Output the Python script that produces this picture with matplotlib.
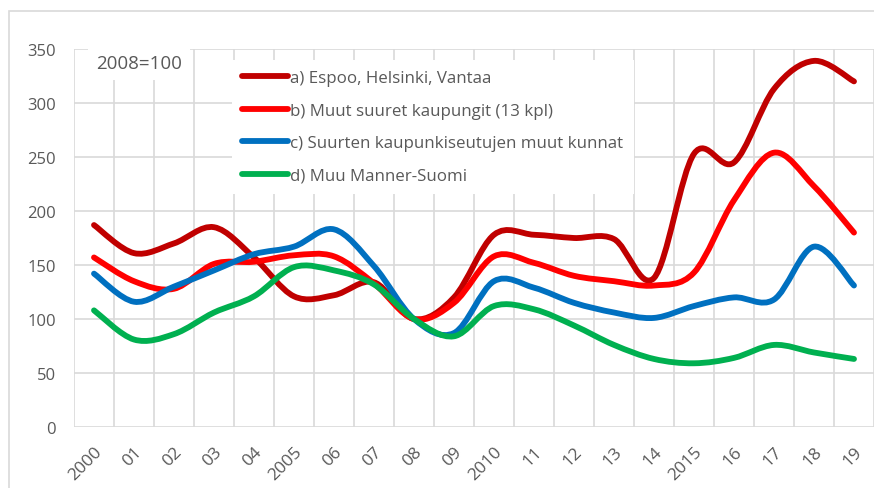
import numpy as np
import matplotlib.pyplot as plt
from matplotlib.path import Path
from matplotlib.patches import PathPatch, Rectangle
from matplotlib.lines import Line2D

plt.rcParams['font.family'] = ['Open Sans', 'DejaVu Sans']

# data (2008=100)
years = list(range(2000, 2020))
tick_labels = ['2000', '01', '02', '03', '04', '2005', '06', '07', '08', '09',
               '2010', '11', '12', '13', '14', '2015', '16', '17', '18', '19']
espoo_hki_vantaa = [187, 161, 170, 185, 157, 121, 122, 134, 100, 120,
                    178, 178, 175, 174, 138, 253, 245, 313, 339, 320]
muut_suuret = [157, 135, 128, 151, 153, 159, 158, 133, 100, 115,
               158, 152, 140, 135, 131, 143, 210, 254, 223, 180]
kaupunkiseudut = [142, 116, 130, 145, 160, 167, 183, 149, 100, 87,
                  135, 129, 115, 106, 101, 112, 120, 118, 167, 131]
muu_manner = [108, 81, 86, 106, 121, 148, 145, 132, 100, 84,
              112, 109, 94, 76, 63, 59, 64, 76, 69, 63]

series = [
    ('a) Espoo, Helsinki, Vantaa', espoo_hki_vantaa, '#C00000'),
    ('b) Muut suuret kaupungit (13 kpl)', muut_suuret, '#FF0000'),
    ('c) Suurten kaupunkiseutujen muut kunnat', kaupunkiseudut, '#0070C0'),
    ('d) Muu Manner-Suomi', muu_manner, '#00B050'),
]

TXT = '#595959'
GRID = '#D9D9D9'
LW = 4.2


def smooth_path(x, y):
    # Excel-style smoothed line: cubic Bezier through each point
    p = np.column_stack([x, y]).astype(float)
    ext = np.vstack([p[0], p, p[-1]])
    verts = [p[0]]
    codes = [Path.MOVETO]
    for i in range(len(p) - 1):
        p0, p1, p2, p3 = ext[i], ext[i + 1], ext[i + 2], ext[i + 3]
        c1 = p1 + (p2 - p0) / 6.0
        c2 = p2 - (p3 - p1) / 6.0
        verts += [c1, c2, p2]
        codes += [Path.CURVE4] * 3
    return Path(verts, codes)


fig = plt.figure(figsize=(8.74, 4.89), dpi=100)
ax = fig.add_axes([74 / 874, 1 - 428 / 489, 800 / 874, 378 / 489])

# outer chart frame
fig.patches.append(Rectangle((9 / 874, -0.1), 1.0, 1 - 12 / 489 + 0.1,
                             transform=fig.transFigure, fill=False,
                             edgecolor=GRID, lw=1.2, zorder=0))

x = np.arange(len(years))
handles = []
for label, vals, col in series:
    patch = PathPatch(smooth_path(x, vals), fill=False, edgecolor=col, lw=LW,
                      capstyle='round', joinstyle='round', zorder=3)
    ax.add_patch(patch)
    handles.append(Line2D([], [], color=col, lw=LW, solid_capstyle='round', label=label))

ax.set_xlim(-0.5, len(years) - 0.5)
ax.set_ylim(0, 350)
ax.set_yticks(range(0, 351, 50))
ax.set_xticks(x)
ax.set_xticklabels(tick_labels, rotation=45, ha='right', rotation_mode='anchor')
ax.set_xticks(np.arange(-0.5, len(years), 1.0), minor=True)
ax.grid(True, axis='y', color=GRID, lw=1.2, zorder=0)
ax.grid(True, axis='x', which='minor', color=GRID, lw=1.2, zorder=0)
ax.tick_params(axis='both', which='both', length=0, colors=TXT, labelsize=12)
ax.tick_params(axis='y', pad=13)
ax.tick_params(axis='x', pad=12, labelsize=12.5)
for s in ax.spines.values():
    s.set_visible(False)

ax.text(22 / 800, 364 / 378, '2008=100', transform=ax.transAxes, fontsize=13.5,
        color=TXT, ha='left', va='center', zorder=5,
        bbox=dict(facecolor='white', edgecolor='none', pad=6))

leg = fig.legend(handles=handles, loc='upper left',
                 bbox_to_anchor=(232 / 874, 1 - 61 / 489), bbox_transform=fig.transFigure,
                 fontsize=12.2, frameon=True, fancybox=False, edgecolor='none',
                 facecolor='white', framealpha=1, handlelength=2.7,
                 handletextpad=0.15, labelspacing=0.97, borderpad=0.6, borderaxespad=0)
for t in leg.get_texts():
    t.set_color(TXT)

fig.savefig('out.png', dpi=100)
